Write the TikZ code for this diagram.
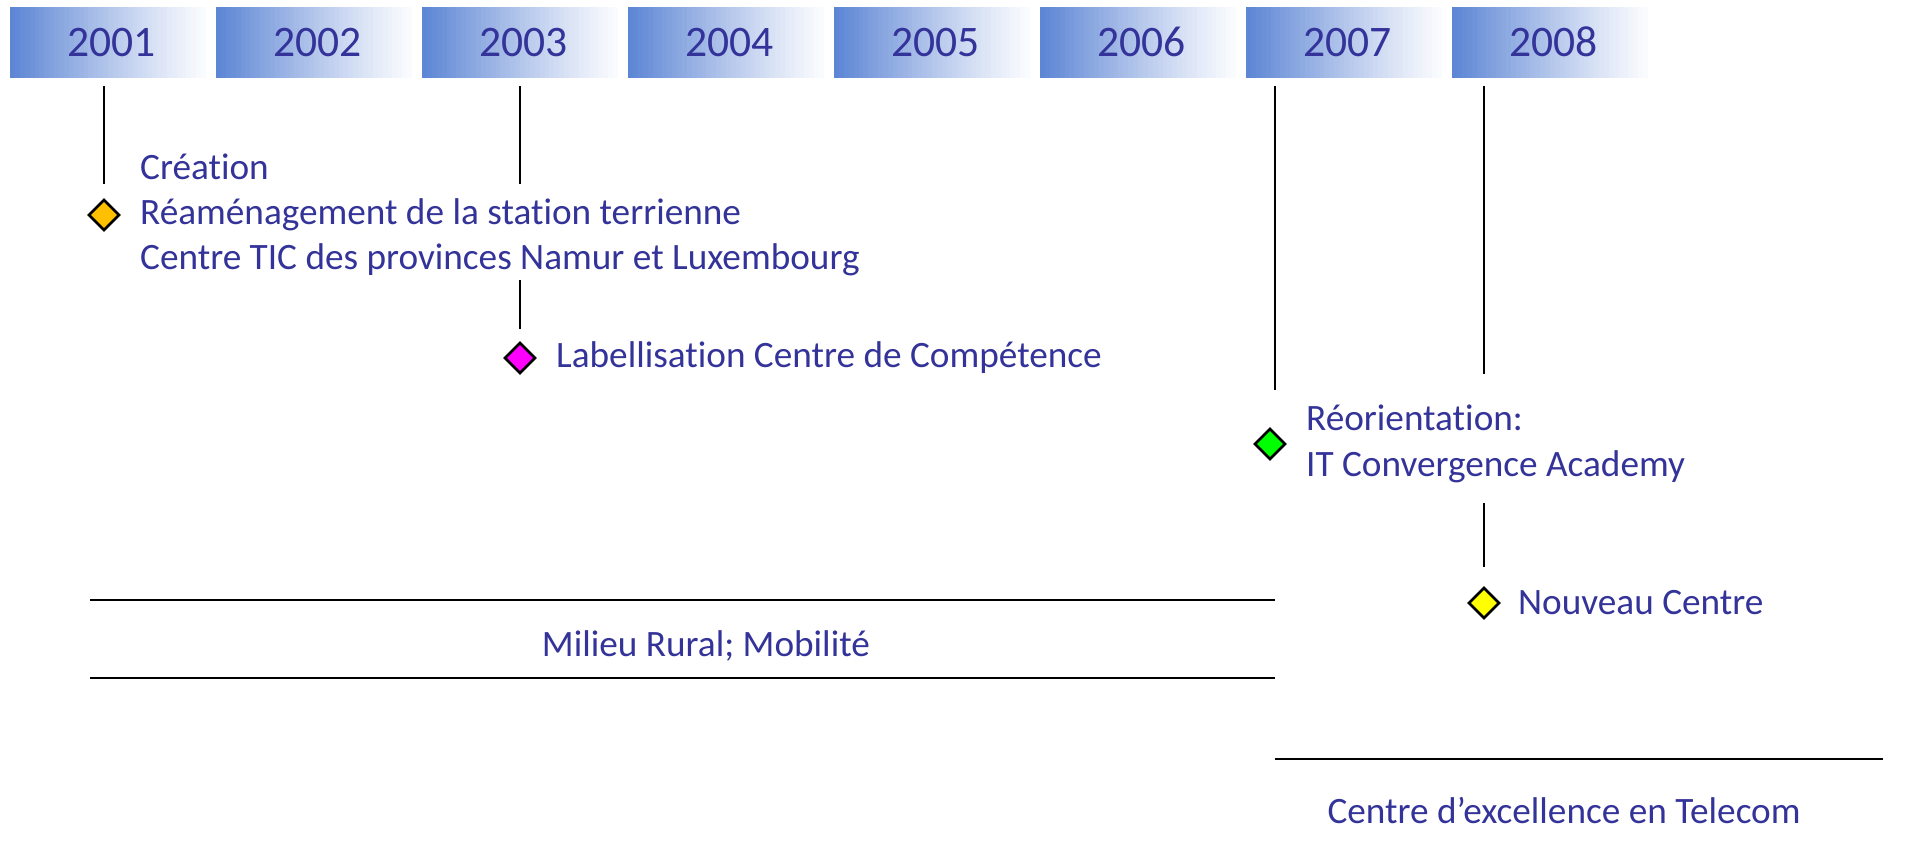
\documentclass[tikz,border=0pt]{standalone}
\usepackage{fontspec}
\setmainfont{Carlito}[Ligatures={NoCommon,NoRare}]
\usetikzlibrary{shapes.geometric,positioning}

\definecolor{boxblue}{RGB}{91,132,212}
\definecolor{textblue}{RGB}{51,51,153}
\definecolor{markorange}{RGB}{255,192,0}
\definecolor{markpink}{RGB}{255,0,255}
\definecolor{markgreen}{RGB}{0,255,0}
\definecolor{markyellow}{RGB}{255,255,0}

\tikzset{
  yearbox/.style={minimum width=3.92cm, minimum height=1.42cm,
    inner sep=0pt, text=textblue, font=\fontsize{24.8}{28}\selectfont,
    text height=16pt, text depth=0pt},
  marker/.style={diamond, draw=black, line width=1.5pt, aspect=1, inner sep=0pt,
    minimum width=0.62cm, minimum height=0.62cm},
  evtext/.style={text=textblue, font=\fontsize{21.2}{25.8}\selectfont, align=left,
    inner sep=0pt, anchor=west},
  tick/.style={line width=1.4pt},
  band/.style={line width=1.6pt}
}

\begin{document}
\begin{tikzpicture}[x=0.02cm,y=-0.02cm]
\useasboundingbox (0,0) rectangle (1923,854);

% years, blue fading to white
\foreach \yr [count=\i from 0] in {2001,...,2008} {
  \foreach \k in {0,...,39} {
    \pgfmathsetmacro\fade{3+97*(1-(\k+0.5)/40)^1.15}
    \fill[boxblue!\fade!white] (10+206*\i+4.9*\k,7) rectangle ++(5.1,71);
  }
  \node[yearbox] (y\yr) at (108+206*\i,42.5) {\hspace*{0.15cm}\yr};
}

% events
\node[marker, fill=markorange] (d1) at (104,215) {};
\node[evtext, right=0.38cm of d1] (t1) {Création\\Réaménagement de la station terrienne\\Centre TIC des provinces Namur et Luxembourg};
\node[marker, fill=markpink] (d2) at (520,358) {};
\node[evtext, right=0.38cm of d2] (t2) {Labellisation Centre de Compétence};
\node[marker, fill=markgreen] (d3) at (1270,444) {};
\node[evtext, right=0.38cm of d3] (t3) {Réorientation:\\IT Convergence Academy};
\node[marker, fill=markyellow] (d4) at (1484,603) {};
\node[evtext, right=0.34cm of d4] (t4) {Nouveau Centre};

% ticks
\draw[tick] (d1 |- 0,86) -- (d1 |- 0,184);
\draw[tick] (d2 |- 0,86) -- (d2 |- 0,184);
\draw[tick] (d2 |- 0,280) -- (d2 |- 0,329);
\draw[tick] (1275,86) -- (1275,390);
\draw[tick] (d4 |- 0,86) -- (d4 |- 0,374);
\draw[tick] (d4 |- 0,503) -- (d4 |- 0,567);

% periods
\coordinate (ruralA) at (90,600);
\coordinate (ruralB) at (1275,600);
\coordinate (ruralC) at (90,678);
\coordinate (ruralD) at (1275,678);
\draw[band] (ruralA) -- (ruralB);
\draw[band] (ruralC) -- (ruralD);
\node[evtext, anchor=center] (rural) at (706,646) {Milieu Rural; Mobilité};
\coordinate (telA) at (1275,759);
\coordinate (telB) at (1883,759);
\draw[band] (telA) -- (telB);
\node[evtext, anchor=center] (tel) at (1564,811) {Centre d’excellence en Telecom};
\end{tikzpicture}
\end{document}
